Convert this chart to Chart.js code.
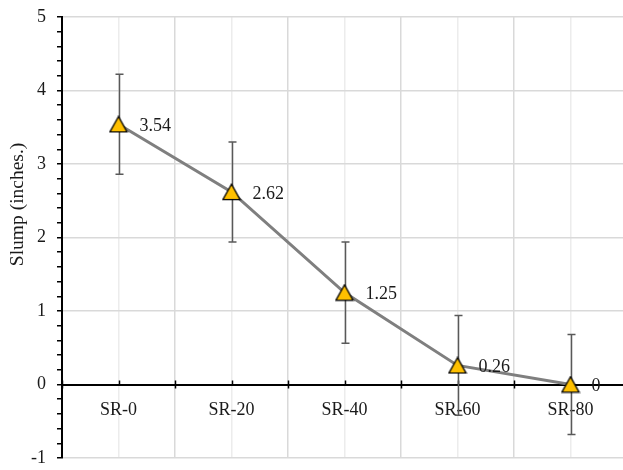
<!DOCTYPE html>
<html>
<head>
<meta charset="utf-8">
<script src="https://cdn.jsdelivr.net/npm/chart.js@4/dist/chart.umd.min.js"></script>
<style>
  html, body { margin: 0; padding: 0; overflow: hidden; background: #fff; }
  #wrap { width: 642px; height: 470px; }
</style>
</head>
<body>
<div id="wrap"><canvas id="c" width="642" height="470"></canvas></div>
<script>
// Slump test results per mix
const categories = ['SR-0', 'SR-20', 'SR-40', 'SR-60', 'SR-80'];
const slump = [3.54, 2.62, 1.25, 0.26, 0];
const slumpError = [0.68, 0.68, 0.69, 0.68, 0.68];
const yTickLabels = [-1, 0, 1, 2, 3, 4, 5];
const yTitle = 'Slump (inches.)';

const FONT = "'Liberation Serif', 'Times New Roman', serif";
const TEXT = '#1a1a1a';

// Triangle marker, centred on its bounding box
function makeTriangle() {
  const c = document.createElement('canvas');
  c.width = 20; c.height = 18;
  const g = c.getContext('2d');
  g.beginPath();
  g.moveTo(10, 1.2);
  g.lineTo(1.4, 16.6);
  g.lineTo(18.6, 16.6);
  g.closePath();
  g.fillStyle = '#FFC000';
  g.fill();
  g.lineWidth = 1.3;
  g.strokeStyle = '#000';
  g.lineJoin = 'miter';
  g.stroke();
  return c;
}

const isInt = v => Math.abs(v - Math.round(v)) < 1e-6;

const decor = {
  id: 'slumpDecor',
  beforeDatasetsDraw(chart) {
    const { ctx, scales: { x, y } } = chart;
    ctx.save();
    // tick marks on the horizontal axis at y = 0
    const y0 = y.getPixelForValue(0);
    ctx.strokeStyle = '#000';
    ctx.lineWidth = 1.5;
    for (let i = 0; i <= categories.length; i++) {
      const px = Math.round(x.getPixelForValue(i - 0.5)) + 0.5;
      ctx.beginPath();
      ctx.moveTo(px, y0 - 4);
      ctx.lineTo(px, y0 + 4);
      ctx.stroke();
    }
    for (let i = 0; i < categories.length; i++) {
      const px = Math.round(x.getPixelForValue(i)) + 0.5;
      ctx.beginPath();
      ctx.moveTo(px, y0 - 4);
      ctx.lineTo(px, y0);
      ctx.stroke();
    }
    // error bars
    ctx.strokeStyle = '#595959';
    ctx.lineWidth = 1.5;
    slump.forEach((v, i) => {
      const px = Math.round(x.getPixelForValue(i)) + 0.5;
      const top = y.getPixelForValue(v + slumpError[i]);
      const bot = y.getPixelForValue(v - slumpError[i]);
      ctx.beginPath();
      ctx.moveTo(px, top); ctx.lineTo(px, bot);
      ctx.moveTo(px - 4, top); ctx.lineTo(px + 4, top);
      ctx.moveTo(px - 4, bot); ctx.lineTo(px + 4, bot);
      ctx.stroke();
    });
    ctx.restore();
  },
  afterDatasetsDraw(chart) {
    const { ctx, scales: { x, y } } = chart;
    ctx.save();
    ctx.font = '18px ' + FONT;
    ctx.fillStyle = TEXT;
    ctx.textAlign = 'left';
    ctx.textBaseline = 'middle';
    slump.forEach((v, i) => {
      ctx.fillText(String(v), x.getPixelForValue(i) + 21, y.getPixelForValue(v) + 2);
    });
    // vertical axis title
    ctx.translate(18, y.getPixelForValue(2.45));
    ctx.rotate(-Math.PI / 2);
    ctx.textAlign = 'center';
    ctx.font = '19.5px ' + FONT;
    ctx.fillText(yTitle, 0, 0);
    ctx.restore();
  }
};

new Chart(document.getElementById('c'), {
  type: 'line',
  data: {
    datasets: [{
      data: slump.map((v, i) => ({ x: i, y: v })),
      borderColor: '#7f7f7f',
      borderWidth: 3,
      tension: 0,
      pointStyle: makeTriangle(),
      pointRadius: 9,
      pointHoverRadius: 9,
      clip: false
    }]
  },
  options: {
    responsive: false,
    devicePixelRatio: 1,
    animation: false,
    layout: { padding: { top: 17, right: 3, bottom: 6, left: 0 } },
    plugins: { legend: { display: false }, tooltip: { enabled: false } },
    scales: {
      x: {
        type: 'linear',
        position: { y: 0 },
        min: -0.5,
        max: 4.5,
        afterFit: s => { s.height = 0; },
        ticks: {
          stepSize: 0.5,
          autoSkip: false,
          maxRotation: 0,
          padding: 15,
          font: { family: FONT, size: 18 },
          color: TEXT,
          callback: v => isInt(v) ? (categories[Math.round(v)] || '') : ''
        },
        grid: {
          drawTicks: false,
          lineWidth: 1.5,
          color: c => isInt(c.tick.value) ? '#ececec' : '#d9d9d9'
        },
        border: { color: '#000', width: 2 }
      },
      y: {
        min: -1,
        max: 5,
        afterFit: s => { s.width = 62; s.paddingTop = 0; s.paddingBottom = 0; },
        ticks: {
          stepSize: 0.2,
          autoSkip: false,
          padding: 11,
          font: { family: FONT, size: 18 },
          color: TEXT,
          callback: v => (isInt(v) && yTickLabels.includes(Math.round(v))) ? String(Math.round(v)) : ''
        },
        grid: {
          lineWidth: 1.5,
          color: c => isInt(c.tick.value) ? '#d9d9d9' : 'rgba(0,0,0,0)',
          tickColor: '#000',
          tickLength: 5,
          tickWidth: 1.5
        },
        border: { color: '#000', width: 2 },
        title: { display: false, text: yTitle }
      }
    }
  },
  plugins: [decor]
});
</script>
</body>
</html>
